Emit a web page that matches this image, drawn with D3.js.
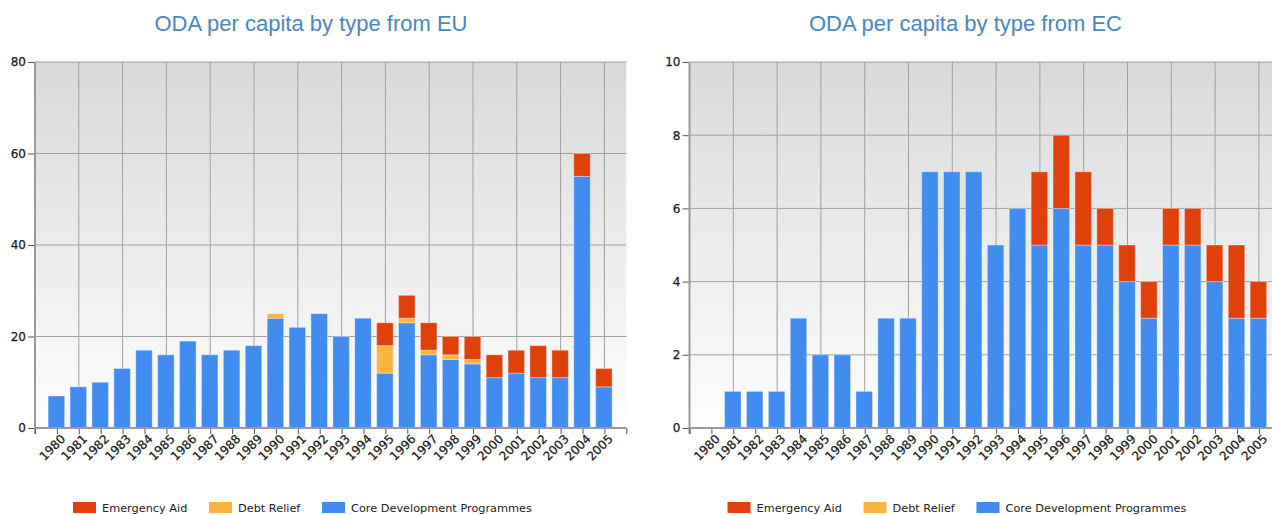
<!DOCTYPE html>
<html>
<head>
<meta charset="utf-8">
<script src="https://cdn.jsdelivr.net/npm/d3@7"></script>
<style>
  body { margin: 0; background: #fff; }
  svg { display: block; }
</style>
</head>
<body>
<svg id="chart" width="1272" height="515"></svg>
<script>
// ==== data ====
const years = d3.range(1980, 2006)
const seriesKeys = ['core', 'debt', 'emergency']
const seriesNames = { emergency: 'Emergency Aid', debt: 'Debt Relief', core: 'Core Development Programmes' }
const seriesColors = { emergency: '#E0400A', debt: '#FCB441', core: '#418CF0' }
const legendOrder = ['emergency', 'debt', 'core']

// EU
const euCore = [7, 9, 10, 13, 17, 16, 19, 16, 17, 18, 24, 22, 25, 20, 24, 12, 23, 16, 15, 14, 11, 12, 11, 11, 55, 9]
const euDebt = [0, 0, 0, 0, 0, 0, 0, 0, 0, 0, 1, 0, 0, 0, 0, 6, 1, 1, 1, 1, 0, 0, 0, 0, 0, 0]
const euEmergency = [0, 0, 0, 0, 0, 0, 0, 0, 0, 0, 0, 0, 0, 0, 0, 5, 5, 6, 4, 5, 5, 5, 7, 6, 5, 4]

// EC
const ecCore = [0, 1, 1, 1, 3, 2, 2, 1, 3, 3, 7, 7, 7, 5, 6, 5, 6, 5, 5, 4, 3, 5, 5, 4, 3, 3]
const ecDebt = [0, 0, 0, 0, 0, 0, 0, 0, 0, 0, 0, 0, 0, 0, 0, 0, 0, 0, 0, 0, 0, 0, 0, 0, 0, 0]
const ecEmergency = [0, 0, 0, 0, 0, 0, 0, 0, 0, 0, 0, 0, 0, 0, 0, 2, 2, 2, 1, 1, 1, 1, 1, 1, 2, 1]

const euTicks = [0, 20, 40, 60, 80]
const ecTicks = [0, 2, 4, 6, 8, 10]

const svg = d3.select('#chart')
const LABEL_FONT = 'DejaVu Sans, Verdana, sans-serif'

// 背景渐变
const defs = svg.append('defs')
const grad = defs.append('linearGradient')
  .attr('id', 'plotBg').attr('x1', 0).attr('y1', 0).attr('x2', 0).attr('y2', 1)
grad.append('stop').attr('offset', '0%').attr('stop-color', '#d9d9d9')
grad.append('stop').attr('offset', '100%').attr('stop-color', '#fefefe')

function buildRows(core, debt, emergency) {
  return years.map((y, i) => ({ year: y, core: core[i], debt: debt[i], emergency: emergency[i] }))
}

function styleLabels(sel, size) {
  sel.attr('font-family', LABEL_FONT)
    .attr('font-size', size).attr('fill', '#1a1a1a')
    .attr('stroke', '#1a1a1a').attr('stroke-width', 0.25)
}

function drawChart(opts) {
  const { left, title, rows, yMax, ticks } = opts
  const top = 62, bottom = 428
  const bandW = 21.9
  const g = svg.append('g')

  const x = d3.scaleLinear().domain([1979, 2006]).range([left, left + 27 * bandW])
  const y = d3.scaleLinear().domain([0, yMax]).range([bottom, top])

  // title
  g.append('text')
    .attr('x', left + 276).attr('y', 31)
    .attr('text-anchor', 'middle')
    .attr('font-family', 'Liberation Sans, Arial, sans-serif')
    .attr('font-size', 22)
    .attr('fill', '#4a86c2')
    .text(title)

  // plot background
  g.append('rect')
    .attr('x', x(1979)).attr('y', top)
    .attr('width', x(2006) - x(1979)).attr('height', bottom - top)
    .attr('fill', 'url(#plotBg)')

  // grid
  const gridYears = d3.range(1981, 2007, 2)
  g.selectAll('.vgrid').data(gridYears).join('line')
    .attr('x1', d => x(d)).attr('x2', d => x(d))
    .attr('y1', top).attr('y2', bottom)
    .attr('stroke', '#a0a0a0').attr('stroke-width', 1)
  g.selectAll('.hgrid').data(ticks.slice(1)).join('line')
    .attr('x1', x(1979)).attr('x2', x(2006))
    .attr('y1', d => y(d)).attr('y2', d => y(d))
    .attr('stroke', '#a0a0a0').attr('stroke-width', 1)

  // bars
  const stacked = d3.stack().keys(seriesKeys)(rows)
  const barW = 16.5
  stacked.forEach(layer => {
    g.append('g').selectAll('rect')
      .data(layer.filter(d => d[1] - d[0] > 0))
      .join('rect')
      .attr('x', d => x(d.data.year) - barW / 2 - 0.5)
      .attr('y', d => y(d[1]))
      .attr('width', barW)
      .attr('height', d => y(d[0]) - y(d[1]))
      .attr('fill', seriesColors[layer.key])
      .attr('stroke', 'rgba(255,255,255,0.35)')
      .attr('stroke-width', 1)
  })

  // y axis
  const yAxis = g.append('g')
    .attr('transform', `translate(${x(1979)},0)`)
    .call(d3.axisLeft(y).tickValues(ticks).tickSize(7).tickPadding(2))
  yAxis.select('.domain').remove()
  yAxis.selectAll('.tick line').attr('stroke', '#555')
  styleLabels(yAxis.selectAll('text'), 12)
  g.append('line')
    .attr('x1', x(1979)).attr('x2', x(1979))
    .attr('y1', top).attr('y2', bottom + 6)
    .attr('stroke', '#999').attr('stroke-width', 2)

  // x axis
  const xAxis = g.append('g')
    .attr('transform', `translate(0,${bottom})`)
    .call(d3.axisBottom(x).tickValues(d3.range(1979, 2007)).tickSize(6)
      .tickFormat(d => (d >= 1980 && d <= 2005 ? String(d) : '')))
  xAxis.select('.domain').remove()
  xAxis.selectAll('.tick line').attr('stroke', '#555')
  styleLabels(xAxis.selectAll('text'), 12)
  xAxis.selectAll('text')
    .attr('text-anchor', 'end')
    .attr('dy', 0)
    .attr('transform', 'translate(3,6) rotate(-45)')
    .attr('y', 8).attr('x', 0)
  g.append('line')
    .attr('x1', x(1979)).attr('x2', x(2006))
    .attr('y1', bottom).attr('y2', bottom)
    .attr('stroke', '#999').attr('stroke-width', 2)

  // legend
  const legendX = [left + 38, left + 174, left + 287]
  const lg = g.append('g')
  legendOrder.forEach((k, i) => {
    lg.append('rect')
      .attr('x', legendX[i]).attr('y', 502)
      .attr('width', 23).attr('height', 11)
      .attr('fill', seriesColors[k])
    lg.append('text')
      .attr('x', legendX[i] + 29).attr('y', 512)
      .attr('font-family', LABEL_FONT)
      .attr('font-size', 11.3).attr('fill', '#222')
      .text(seriesNames[k])
  })
}

drawChart({
  left: 35,
  title: 'ODA per capita by type from EU',
  rows: buildRows(euCore, euDebt, euEmergency),
  yMax: 80,
  ticks: euTicks,
})

drawChart({
  left: 689.5,
  title: 'ODA per capita by type from EC',
  rows: buildRows(ecCore, ecDebt, ecEmergency),
  yMax: 10,
  ticks: ecTicks,
})
</script>
</body>
</html>
